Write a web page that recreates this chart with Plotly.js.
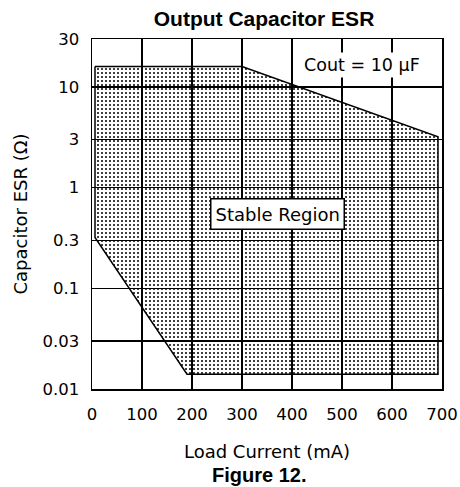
<!DOCTYPE html>
<html>
<head>
<meta charset="utf-8">
<script src="https://cdn.plot.ly/plotly-3.0.1.min.js"></script>
<style>html,body{margin:0;padding:0;background:#fff;}#chart{width:460px;height:487px;}</style>
</head>
<body>
<div id="chart"></div>
<script>
// Stable region boundary (Load Current mA, ESR ohm)
const regionX = [6, 300, 692, 692, 190, 6, 6];
const regionY = [16, 16, 3.2, 0.014, 0.014, 0.32, 16];

const xTicks = [0, 100, 200, 300, 400, 500, 600, 700];
const yTicks = [0.01, 0.03, 0.1, 0.3, 1, 3, 10, 30];
const yTickText = ['0.01', '0.03', '0.1', '0.3', '1', '3', '10', '30'];

const labelCout = {x: 540, y: 16.5, text: 'Cout = 10 \u03BCF'};
const labelStable = {x: 370, y: 0.55, text: 'Stable Region'};

const FONT = 'DejaVu Sans';
const tickFont = {family: FONT, size: 16.5, color: '#000'};

const trace = {
  x: regionX, y: regionY,
  mode: 'lines', type: 'scatter', fill: 'toself',
  line: {color: '#000', width: 1.5},
  fillcolor: 'rgba(0,0,0,0)',
  fillpattern: {shape: '.', size: 4, solidity: 0.2, fgcolor: '#000', bgcolor: 'rgba(0,0,0,0)'},
  hoverinfo: 'skip', showlegend: false
};

const layout = {
  width: 460, height: 487,
  margin: {l: 92, r: 18, t: 39, b: 98},
  paper_bgcolor: '#fff', plot_bgcolor: '#fff',
  title: {text: '<b>Output Capacitor ESR</b>', font: {family: 'Liberation Sans', size: 21, color: '#000'},
          x: 0.574, xanchor: 'center', y: 0.961, yanchor: 'middle'},
  xaxis: {
    range: [0, 700], tickvals: xTicks, ticks: '', showline: true, mirror: true,
    linecolor: '#000', linewidth: 1.5, gridcolor: '#000', gridwidth: 1.2,
    zeroline: false, tickfont: tickFont, ticklabelstandoff: 10, automargin: false,
    title: {text: 'Load Current (mA)', font: {family: FONT, size: 18, color: '#000'}, standoff: 22}
  },
  yaxis: {
    type: 'log', range: [Math.log10(0.01), Math.log10(30)], tickvals: yTicks, ticktext: yTickText,
    ticks: '', showline: true, mirror: true, linecolor: '#000', linewidth: 1.5,
    gridcolor: '#000', gridwidth: 1.2, zeroline: false, tickfont: tickFont, ticklabelstandoff: 8, automargin: false,
    title: {text: 'Capacitor ESR (\u03A9)', font: {family: FONT, size: 18, color: '#000'}, standoff: 10}
  },
  annotations: [
    {x: labelCout.x, y: Math.log10(labelCout.y), text: labelCout.text, showarrow: false,
     font: {family: FONT, size: 17.5, color: '#000'}, bgcolor: '#fff', borderpad: 2},
    {x: labelStable.x, y: Math.log10(labelStable.y), text: labelStable.text, showarrow: false,
     font: {family: FONT, size: 18, color: '#000'}, bgcolor: '#fff', bordercolor: '#000', borderwidth: 1.5, borderpad: 4},
    {xref: 'paper', yref: 'paper', x: 0.476, xanchor: 'center', y: -0.246, yanchor: 'middle', text: '<b>Figure 12.</b>', showarrow: false,
     font: {family: 'Liberation Sans', size: 20, color: '#000'}}
  ]
};

Plotly.newPlot('chart', [trace], layout, {staticPlot: true, displayModeBar: false});
</script>
</body>
</html>
